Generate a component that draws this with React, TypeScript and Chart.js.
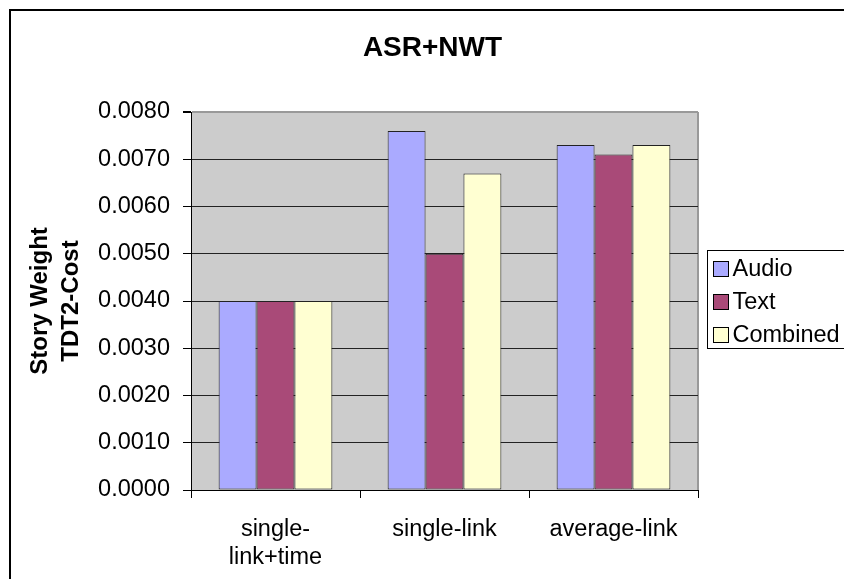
import React, { useEffect, useRef } from 'react';
import { Chart, registerables } from 'chart.js';

Chart.register(...registerables);

const categories: (string | string[])[] = [['single-', 'link+time'], 'single-link', 'average-link'];
const seriesNames = ['Audio', 'Text', 'Combined'];
const audioValues = [0.004, 0.0076, 0.0073];
const textValues = [0.004, 0.005, 0.0071];
const combinedValues = [0.004, 0.0067, 0.0073];
const seriesColors = ['#aaaaff', '#a94a78', '#ffffd2'];
const yMin = 0;
const yMax = 0.008;
const yStep = 0.001;
const chartTitle = 'ASR+NWT';
const yAxisTitle = ['Story Weight', 'TDT2-Cost'];

const FONT = "'Liberation Sans', Arial, Helvetica, sans-serif";

const decorPlugin = {
  id: 'excelDecor',
  beforeDraw(chart: any) {
    const { ctx, chartArea } = chart;
    ctx.save();
    // outer chart frame
    ctx.strokeStyle = '#000';
    ctx.lineWidth = 2;
    ctx.strokeRect(10, 10, 2000, 2000);
    // plot area background
    ctx.fillStyle = '#cccccc';
    ctx.fillRect(chartArea.left, chartArea.top, chartArea.right - chartArea.left, chartArea.bottom - chartArea.top);
    // right plot border
    ctx.strokeStyle = '#999999';
    ctx.lineWidth = 2;
    ctx.beginPath();
    ctx.moveTo(chartArea.right, chartArea.top);
    ctx.lineTo(chartArea.right, chartArea.bottom);
    ctx.stroke();
    ctx.restore();
  },
  afterDraw(chart: any) {
    const { ctx, chartArea } = chart;
    ctx.save();
    // title
    ctx.fillStyle = '#000';
    ctx.font = `bold 28px ${FONT}`;
    ctx.textAlign = 'center';
    ctx.textBaseline = 'alphabetic';
    ctx.fillText(chartTitle, 432.5, 56);
    // legend
    const midY = (chartArea.top + chartArea.bottom) / 2;
    const boxLeft = chartArea.right + 9.5;
    const boxTop = midY - 50.5;
    const boxH = 98;
    ctx.strokeStyle = '#000';
    ctx.lineWidth = 1;
    ctx.strokeRect(boxLeft, boxTop, 400, boxH);
    ctx.font = `23.5px ${FONT}`;
    ctx.textAlign = 'left';
    ctx.textBaseline = 'middle';
    chart.data.datasets.forEach((ds: any, i: number) => {
      const cy = boxTop + 18.5 + i * 33;
      ctx.fillStyle = ds.backgroundColor;
      ctx.fillRect(boxLeft + 6, cy - 7.5, 15, 15);
      ctx.strokeStyle = '#000';
      ctx.strokeRect(boxLeft + 6, cy - 7.5, 15, 15);
      ctx.fillStyle = '#000';
      ctx.fillText(ds.label, boxLeft + 25, cy + 1);
    });
    ctx.restore();
  },
};

export default function App() {
  const canvasRef = useRef<HTMLCanvasElement | null>(null);

  useEffect(() => {
    if (!canvasRef.current) return;
    const valueSets = [audioValues, textValues, combinedValues];
    const chart = new Chart(canvasRef.current, {
      type: 'bar',
      data: {
        labels: categories,
        datasets: seriesNames.map((name, i) => ({
          label: name,
          data: valueSets[i],
          backgroundColor: seriesColors[i],
          borderColor: '#222222',
          borderWidth: 1,
          borderSkipped: false,
          categoryPercentage: 0.673,
          barPercentage: 1,
        })),
      },
      options: {
        animation: false,
        responsive: false,
        maintainAspectRatio: false,
        devicePixelRatio: 1,
        layout: { padding: { top: 112, right: 146, left: 0, bottom: 0 } },
        plugins: {
          legend: { display: false },
          title: { display: false },
          tooltip: { enabled: false },
        },
        scales: {
          x: {
            type: 'category',
            offset: true,
            grid: {
              offset: true,
              drawOnChartArea: false,
              drawTicks: true,
              tickLength: 8,
              tickColor: '#000',
              color: '#000',
            },
            border: { display: true, color: '#000', width: 1 },
            ticks: {
              color: '#000',
              font: { family: FONT, size: 23.5, lineHeight: 1.2 },
              padding: 17,
              maxRotation: 0,
              autoSkip: false,
            },
            afterFit: (scale: any) => {
              scale.height = 89;
            },
          },
          y: {
            min: yMin,
            max: yMax,
            grid: {
              drawTicks: true,
              tickLength: 8,
              tickColor: '#000',
              color: (ctx: any) => (ctx.tick && Math.abs(ctx.tick.value - yMax) < 1e-9 ? '#999999' : '#222222'),
              lineWidth: (ctx: any) => (ctx.tick && Math.abs(ctx.tick.value - yMax) < 1e-9 ? 2 : 1),
            },
            border: { display: true, color: '#000', width: 1 },
            ticks: {
              stepSize: yStep,
              color: '#000',
              font: { family: FONT, size: 23.5 },
              padding: 13,
              callback: (v: any) => Number(v).toFixed(4),
            },
            title: {
              display: true,
              text: yAxisTitle,
              color: '#000',
              font: { family: FONT, size: 24, weight: 'bold', lineHeight: 31 / 24 },
              padding: { top: 25, bottom: 0 },
            },
            afterFit: (scale: any) => {
              scale.width = 191;
            },
          },
        },
      },
      plugins: [decorPlugin],
    } as any);
    return () => chart.destroy();
  }, []);

  return (
    <div style={{ position: 'absolute', left: 0, top: 0, width: 844, height: 579, background: '#fff' }}>
      <canvas ref={canvasRef} width={844} height={579} style={{ width: 844, height: 579, display: 'block' }} />
    </div>
  );
}
